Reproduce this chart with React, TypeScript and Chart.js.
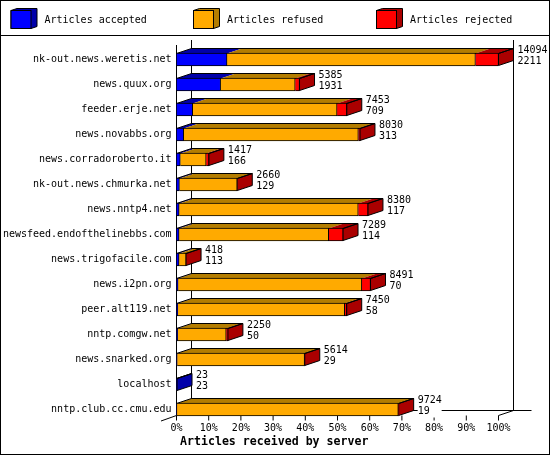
import { useEffect, useRef } from "react";
import { Chart, registerables } from "chart.js";

Chart.register(...registerables);

const categories = [
  "nk-out.news.weretis.net",
  "news.quux.org",
  "feeder.erje.net",
  "news.novabbs.org",
  "news.corradoroberto.it",
  "nk-out.news.chmurka.net",
  "news.nntp4.net",
  "newsfeed.endofthelinebbs.com",
  "news.trigofacile.com",
  "news.i2pn.org",
  "peer.alt119.net",
  "nntp.comgw.net",
  "news.snarked.org",
  "localhost",
  "nntp.club.cc.cmu.edu",
];
const accepted = [2211, 1931, 709, 313, 166, 129, 117, 114, 113, 70, 58, 50, 29, 23, 19];
const refused = [10873, 3264, 6319, 7647, 1131, 2526, 7838, 6547, 303, 8041, 7304, 2125, 5577, 0, 9690];
const rejected = [1010, 190, 425, 70, 120, 5, 425, 628, 2, 380, 88, 75, 8, 0, 15];
const totals = [14094, 5385, 7453, 8030, 1417, 2660, 8380, 7289, 418, 8491, 7450, 2250, 5614, 23, 9724];
const maxTotal = 14094;
const percentTicks = [0, 10, 20, 30, 40, 50, 60, 70, 80, 90, 100];

const seriesNames = ["Articles accepted", "Articles refused", "Articles rejected"];
const seriesColors = ["#0000ff", "#ffaa00", "#ff0000"];
const darkTops = ["#0000aa", "#b47d00", "#aa0000"];
const legendX = [11, 193.5, 376.5];

const MONO = '"DejaVu Sans Mono", monospace';
const DX = 15;
const DY = 5;
const BAR = 12;

function poly(ctx: CanvasRenderingContext2D, pts: number[][]) {
  ctx.beginPath();
  pts.forEach((p, i) => (i ? ctx.lineTo(p[0], p[1]) : ctx.moveTo(p[0], p[1])));
  ctx.closePath();
}

function line(ctx: CanvasRenderingContext2D, x0: number, y0: number, x1: number, y1: number) {
  ctx.beginPath();
  ctx.moveTo(x0, y0);
  ctx.lineTo(x1, y1);
  ctx.stroke();
}

const frame3d = {
  id: "frame3d",
  beforeDraw(chart: any) {
    const { ctx, width, height } = chart;
    ctx.save();
    ctx.fillStyle = "#fff";
    ctx.fillRect(0, 0, width, height);
    ctx.strokeStyle = "#000";
    ctx.lineWidth = 1;
    ctx.strokeRect(0.5, 0.5, width - 1, height - 1);
    line(ctx, 0, 35.5, width, 35.5);

    // legend boxes
    seriesNames.forEach((name, i) => {
      const x = legendX[i];
      ctx.fillStyle = darkTops[i];
      poly(ctx, [[x, 10.5], [x + 6, 8.5], [x + 26, 8.5], [x + 26, 26.5], [x + 20, 28.5], [x, 28.5]]);
      ctx.fill();
      ctx.stroke();
      ctx.fillStyle = seriesColors[i];
      ctx.fillRect(x, 10.5, 20, 18);
      ctx.strokeRect(x, 10.5, 20, 18);
      ctx.fillStyle = "#000";
      ctx.font = `10px ${MONO}`;
      ctx.textAlign = "left";
      ctx.textBaseline = "middle";
      ctx.fillText(name, x + 33.5, 20);
    });

    ctx.font = `bold 11.6px ${MONO}`;
    ctx.fillText("Articles received by server", 180, 442);
    ctx.restore();
  },
  beforeDatasetsDraw(chart: any) {
    const { ctx, scales } = chart;
    const xs = scales.x;
    const ys = scales.y;
    const left = xs.getPixelForValue(0);
    const right = xs.getPixelForValue(maxTotal);
    const front = ys.getPixelForValue(categories.length - 1) + BAR / 2;
    const back = front - DY;

    ctx.save();
    ctx.strokeStyle = "#000";
    ctx.lineWidth = 1;
    // walls of the 3d box
    line(ctx, left, 45, left, front);
    line(ctx, left + DX, 40, left + DX, back);
    line(ctx, right + DX, 40, right + DX, back);
    line(ctx, left + DX, back, right + DX + 18, back);
    line(ctx, left - 15.5, front + 5.5, left, front);
    line(ctx, left, front, left + DX, back);
    line(ctx, right, front, right + DX, back);
    percentTicks.forEach((p) => {
      const x = xs.getPixelForValue((p * maxTotal) / 100);
      line(ctx, x, front, x, front + 5);
    });

    // top and side faces of the bars
    categories.forEach((_, i) => {
      const yc = ys.getPixelForValue(i);
      const top = yc - BAR / 2;
      const bottom = yc + BAR / 2;
      const parts = [accepted[i], refused[i], rejected[i]];
      let sum = 0;
      let last = 0;
      parts.forEach((v, k) => {
        if (!v) return;
        const x0 = xs.getPixelForValue(sum);
        sum += v;
        const x1 = xs.getPixelForValue(sum);
        last = k;
        ctx.fillStyle = darkTops[k];
        poly(ctx, [[x0, top], [x1, top], [x1 + DX, top - DY], [x0 + DX, top - DY]]);
        ctx.fill();
      });
      const xe = xs.getPixelForValue(sum);
      ctx.fillStyle = darkTops[last];
      poly(ctx, [[xe, top], [xe + DX, top - DY], [xe + DX, bottom - DY], [xe, bottom]]);
      ctx.fill();
      ctx.stroke();
      poly(ctx, [[left, top], [left + DX, top - DY], [xe + DX, top - DY], [xe, top]]);
      ctx.stroke();
    });
    ctx.restore();
  },
  afterDatasetsDraw(chart: any) {
    const { ctx, scales } = chart;
    ctx.save();
    ctx.font = `10px ${MONO}`;
    ctx.textAlign = "left";
    ctx.textBaseline = "middle";
    categories.forEach((_, i) => {
      const x = scales.x.getPixelForValue(totals[i]) + DX + 4;
      const yc = scales.y.getPixelForValue(i);
      const upper = String(totals[i]);
      const lower = String(accepted[i]);
      ctx.fillStyle = "#fff";
      ctx.fillRect(x, yc - 14, Math.max(upper.length, lower.length) * 6, 22);
      ctx.fillStyle = "#000";
      ctx.fillText(upper, x, yc - 9.5);
      ctx.fillText(lower, x, yc + 1.5);
    });
    ctx.restore();
  },
};

export default function App() {
  const canvasRef = useRef<HTMLCanvasElement>(null);

  useEffect(() => {
    document.body.style.margin = "0";
    if (!canvasRef.current) return;

    const makeSet = (i: number, data: number[]) => ({
      label: seriesNames[i],
      data,
      backgroundColor: seriesColors[i],
      borderColor: "#000",
      borderWidth: 1,
      borderSkipped: "left" as const,
      barThickness: BAR + 1,
    });

    const chart = new Chart(canvasRef.current, {
      type: "bar",
      data: {
        labels: categories,
        datasets: [makeSet(0, accepted), makeSet(1, refused), makeSet(2, rejected)],
      },
      plugins: [frame3d],
      options: {
        indexAxis: "y",
        responsive: false,
        animation: false,
        layout: { padding: { top: 47, right: 51.5, left: 0, bottom: 0 } },
        plugins: { legend: { display: false }, tooltip: { enabled: false } },
        scales: {
          x: {
            stacked: true,
            min: 0,
            max: maxTotal,
            grid: { display: false, drawTicks: false },
            border: { display: false },
            afterBuildTicks: (s: any) => {
              s.ticks = percentTicks.map((p) => ({ value: (p * maxTotal) / 100 }));
            },
            afterFit: (s: any) => {
              s.height = 33;
            },
            ticks: {
              autoSkip: false,
              maxRotation: 0,
              padding: 0,
              color: "#000",
              font: { family: MONO, size: 10 },
              callback: (v: any) => `${Math.round((Number(v) / maxTotal) * 100)}%`,
            },
          },
          y: {
            stacked: true,
            grid: { display: false, drawTicks: false },
            border: { display: false },
            afterFit: (s: any) => {
              s.width = 176.5;
            },
            ticks: {
              autoSkip: false,
              padding: 5,
              color: "#000",
              font: { family: MONO, size: 10 },
            },
          },
        },
      },
    });

    return () => chart.destroy();
  }, []);

  return <canvas ref={canvasRef} width={550} height={455} style={{ display: "block" }} />;
}
